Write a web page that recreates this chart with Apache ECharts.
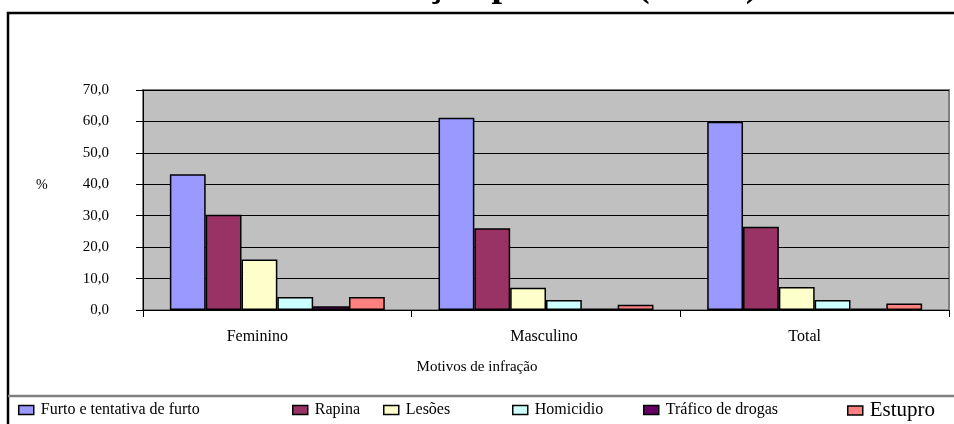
<!DOCTYPE html>
<html>
<head>
<meta charset="utf-8">
<script src="https://cdn.jsdelivr.net/npm/echarts@6/dist/echarts.min.js"></script>
<style>
  html, body { margin: 0; padding: 0; background: #ffffff; }
  #chart { width: 954px; height: 424px; }
</style>
</head>
<body>
<div id="chart"></div>
<script>
// Percentage of offences by type, per sex
const categories = ['Feminino', 'Masculino', 'Total'];
const seriesNames = ['Furto e tentativa de furto', 'Rapina', 'Lesões', 'Homicidio', 'Tráfico de drogas', 'Estupro'];
const furto = [43.2, 61.2, 59.9];
const rapina = [30.3, 26.0, 26.5];
const lesoes = [16.1, 7.1, 7.3];
const homicidio = [4.1, 3.2, 3.2];
const trafico = [1.2, 0.5, 0.5];
const estupro = [4.1, 1.7, 2.1];
const yTickLabels = ['0,0', '10,0', '20,0', '30,0', '40,0', '50,0', '60,0', '70,0'];

const seriesData = [furto, rapina, lesoes, homicidio, trafico, estupro];
const colors = ['#9999FF', '#993366', '#FFFFCC', '#CCFFFF', '#660066', '#FF8080'];
const legendLeft = [18, 292, 383, 512, 643, 847];
const SERIF = '"Liberation Serif", "Times New Roman", serif';

// category labels sit a little left of the band centre
const labelShift = [40, 4, 20];
const labelRich = {};
labelShift.forEach((s, i) => {
  labelRich['c' + i] = { fontFamily: SERIF, fontSize: 16, color: '#000', padding: [0, s, 0, 0] };
});

const chart = echarts.init(document.getElementById('chart'), null, { renderer: 'canvas' });

const option = {
  animation: false,
  backgroundColor: '#ffffff',
  textStyle: { fontFamily: SERIF, color: '#000' },
  graphic: [
    {
      type: 'text', left: 159, top: -33, silent: true,
      style: { text: 'Motivos de infração por sexo (em %)', font: 'bold 38px ' + SERIF, fill: '#000' }
    },
    {
      type: 'text', left: 36, top: 178, silent: true,
      style: { text: '%', font: '14px ' + SERIF, fill: '#000' }
    },
    {
      type: 'rect', silent: true, z: 100,
      shape: { x: 8, y: 13, width: 960, height: 420 },
      style: { fill: 'none', stroke: '#000', lineWidth: 2.5 }
    },
    {
      type: 'line', silent: true, z: 100,
      shape: { x1: 8, y1: 396, x2: 960, y2: 396 },
      style: { stroke: '#808080', lineWidth: 2.5 }
    }
  ],
  grid: {
    left: 143, right: 5, top: 90, height: 220,
    show: true, backgroundColor: '#C0C0C0', borderColor: '#808080', borderWidth: 2
  },
  legend: seriesNames.map((name, i) => ({
    data: [name],
    left: legendLeft[i],
    top: i === 5 ? 400 : 402,
    padding: 0,
    icon: 'rect',
    itemWidth: 15,
    itemHeight: 9,
    itemStyle: { borderColor: '#000', borderWidth: 1.5 },
    textStyle: {
      fontFamily: SERIF,
      fontSize: i === 5 ? 21 : 16,
      color: '#000',
      padding: [0, 0, 0, 2]
    }
  })),
  xAxis: {
    type: 'category',
    data: categories,
    name: 'Motivos de infração',
    nameLocation: 'middle',
    nameGap: 50,
    nameTextStyle: { fontFamily: SERIF, fontSize: 15, color: '#000', padding: [0, 138, 0, 0] },
    axisLine: { lineStyle: { color: '#000', width: 1 } },
    axisTick: { show: true, length: 7, lineStyle: { color: '#000' } },
    axisLabel: {
      fontFamily: SERIF, fontSize: 16, color: '#000', margin: 19,
      formatter: (v, i) => '{c' + i + '|' + v + '}',
      rich: labelRich
    },
    splitLine: { show: false }
  },
  yAxis: {
    type: 'value',
    min: 0, max: 70, interval: 10,
    axisLine: { show: true, lineStyle: { color: '#000', width: 1 } },
    axisTick: { show: true, length: 7, lineStyle: { color: '#000' } },
    axisLabel: {
      fontFamily: SERIF, fontSize: 15, color: '#000', margin: 34,
      formatter: v => yTickLabels[Math.round(v / 10)]
    },
    splitLine: { show: true, lineStyle: { color: '#000', width: 1 } }
  },
  series: seriesNames.map((name, i) => ({
    name: name,
    type: 'bar',
    data: seriesData[i],
    barGap: '0%',
    barCategoryGap: '20%',
    itemStyle: { color: colors[i], borderColor: '#000', borderWidth: 1.5 }
  }))
};

chart.setOption(option);
</script>
</body>
</html>
